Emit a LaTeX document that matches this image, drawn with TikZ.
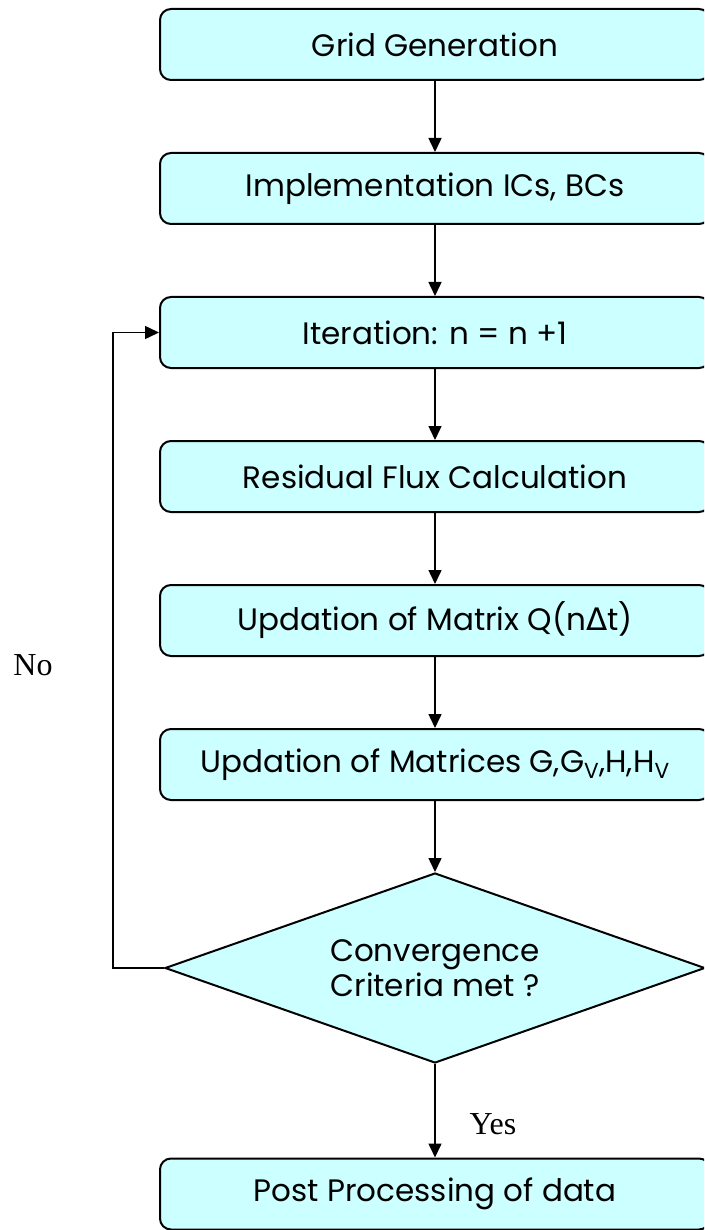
\documentclass[tikz,border=0pt]{standalone}
\usepackage{fontspec}
\setmainfont{Poppins}
\newfontfamily\labelserif{Liberation Serif}
\newfontfamily\symbolfont{DejaVu Sans}
\usetikzlibrary{shapes.geometric,arrows.meta}
\definecolor{boxfill}{HTML}{CCFFFF}

\begin{document}
\begin{tikzpicture}[x=1pt,y=-1pt,
  stepbox/.style={draw=black, line width=2pt, fill=boxfill, rounded corners=11pt,
    minimum width=550pt, minimum height=71pt, inner sep=0pt,
    font=\fontsize{31}{36}\selectfont},
  decision/.style={draw=black, line width=2pt, fill=boxfill, diamond, aspect=2.84,
    minimum width=540pt, minimum height=190pt, inner sep=0pt, align=center,
    font=\fontsize{31}{35}\selectfont},
  flow/.style={line width=1.5pt, -{Triangle[length=14pt,width=13pt]}},
  lbl/.style={font=\labelserif\fontsize{32}{36}\selectfont, inner sep=0pt}]
\useasboundingbox (0,0) rectangle (704,1230);
\clip (0,0) rectangle (704,1230);

% process steps
\node[stepbox] (b1) at (435,44.5)  {Grid Generation};
\node[stepbox] (b2) at (435,188.5) {Implementation ICs, BCs};
\node[stepbox] (b3) at (435,332.5) {Iteration: n = n +1};
\node[stepbox] (b4) at (435,476.5) {Residual Flux Calculation};
\node[stepbox] (b5) at (435,620.5) {Updation of Matrix Q(n{\symbolfont Δ}t)};
\node[stepbox] (b6) at (435,764.5) {Updation of Matrices G,G\textsubscript{V},H,H\textsubscript{V}};
\node[decision] (d) at (435,968) {Convergence\\Criteria met ?};
\node[stepbox] (b7) at (435,1194) {Post Processing of data};

% branch labels
\node[lbl] (no) at (33,665) {No};
\node[lbl] (yes) at (493,1124) {Yes};

% connectors
\draw[flow] (b1.south) -- (b2.north);
\draw[flow] (b2.south) -- (b3.north);
\draw[flow] (b3.south) -- (b4.north);
\draw[flow] (b4.south) -- (b5.north);
\draw[flow] (b5.south) -- (b6.north);
\draw[flow] (b6.south) -- (d.north);
\draw[flow] (d.south) -- (b7.north);

% loop back when not converged
\coordinate (turn) at (113,968);
\draw[flow] (d.west) -- (turn) |- (b3.west);
\end{tikzpicture}
\end{document}
